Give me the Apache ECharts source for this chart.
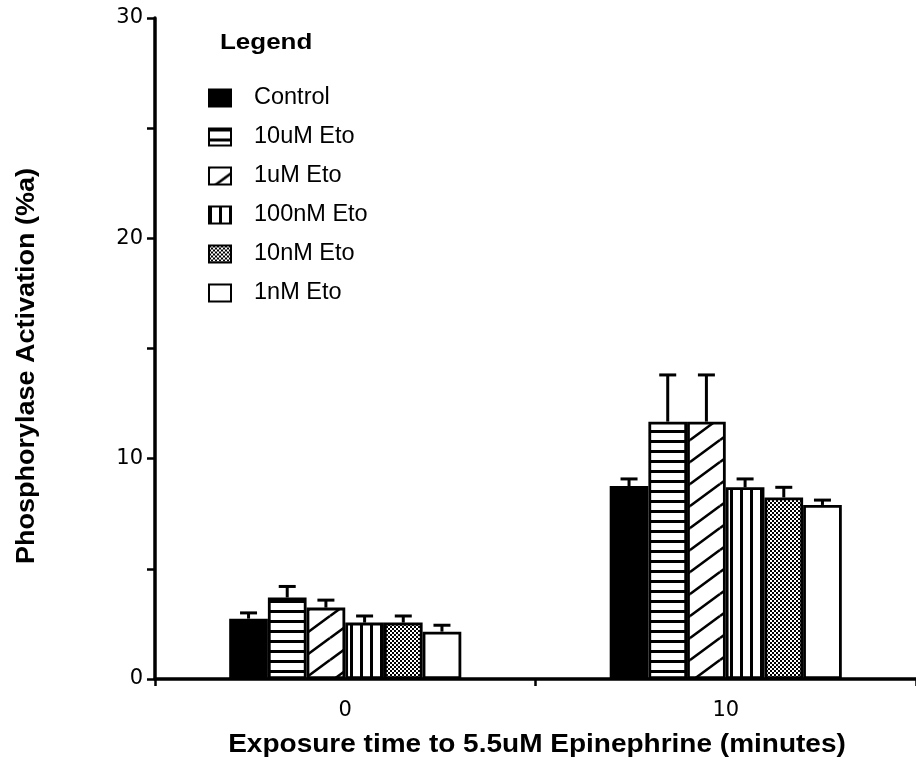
<!DOCTYPE html>
<html>
<head>
<meta charset="utf-8">
<script src="https://cdn.jsdelivr.net/npm/echarts@6/dist/echarts.min.js"></script>
<style>
  html, body { margin: 0; padding: 0; background: #fff; }
  #chart { width: 916px; height: 763px; }
</style>
</head>
<body>
<div id="chart"></div>
<script>
// Exposure times (minutes) on the category axis
const categories = ['0', '10'];

// Treatment groups, drawn left to right within each time point
const seriesNames = ['Control', '10uM Eto', '1uM Eto', '100nM Eto', '10nM Eto', '1nM Eto'];

// Mean phosphorylase activation (%a) per treatment, one value per time point
const control   = [2.74, 8.76];
const eto10uM   = [3.70, 11.68];
const eto1uM    = [3.24, 11.68];
const eto100nM  = [2.56, 8.70];
const eto10nM   = [2.56, 8.24];
const eto1nM    = [2.15, 7.90];

// Upper error (SEM) per treatment
const controlErr  = [0.26, 0.32];
const eto10uMErr  = [0.50, 2.12];
const eto1uMErr   = [0.34, 2.12];
const eto100nMErr = [0.30, 0.38];
const eto10nMErr  = [0.30, 0.46];
const eto1nMErr   = [0.29, 0.22];

const means = [control, eto10uM, eto1uM, eto100nM, eto10nM, eto1nM];
const errs = [controlErr, eto10uMErr, eto1uMErr, eto100nMErr, eto10nMErr, eto1nMErr];

// Y axis ticks that carry a label (minor ticks every 5 are unlabelled)
const yTicks = [0, 10, 20, 30];

// --- fill patterns ---
function tile(w, h, draw) {
  const c = document.createElement('canvas');
  c.width = w; c.height = h;
  const ctx = c.getContext('2d');
  ctx.fillStyle = '#fff';
  ctx.fillRect(0, 0, w, h);
  ctx.fillStyle = '#000';
  ctx.strokeStyle = '#000';
  draw(ctx, w, h);
  return { image: c, repeat: 'repeat' };
}
const hStripes = tile(10, 10, (ctx, w) => { ctx.fillRect(0, 0, w, 3); });
const diagStripes = tile(30, 22, (ctx, w, h) => {
  ctx.lineWidth = 2.6;
  for (const dx of [-w, 0, w]) {
    for (const dy of [-h, 0, h]) {
      ctx.beginPath();
      ctx.moveTo(dx, h + dy);
      ctx.lineTo(w + dx, dy);
      ctx.stroke();
    }
  }
});
const vStripes = tile(10, 10, (ctx, w, h) => { ctx.fillRect(0, 0, 3, h); });
const stipple = tile(4, 4, (ctx) => {
  ctx.fillRect(0, 0, 2, 2);
  ctx.fillRect(2, 2, 2, 2);
});
const fills = ['#000', hStripes, diagStripes, vStripes, stipple, '#fff'];

const CAT_GAP = 0.39;
const CAP = 17;

const chart = echarts.init(document.getElementById('chart'));

const barSeries = seriesNames.map((name, i) => ({
  name: name,
  type: 'bar',
  data: means[i],
  barGap: '0%',
  barCategoryGap: (CAT_GAP * 100) + '%',
  itemStyle: { color: fills[i], borderColor: '#000', borderWidth: 2.8 },
  emphasis: { disabled: true },
  z: 2
}));

// Upper error bars with caps, centred on each bar
const errSeries = seriesNames.map((name, i) => ({
  name: name + ' SEM',
  type: 'custom',
  z: 3,
  data: means[i].map((m, k) => [k, m, m + errs[i][k]]),
  renderItem: (params, api) => {
    const base = api.coord([api.value(0), api.value(1)]);
    const top = api.coord([api.value(0), api.value(2)]);
    const catW = api.size([1, 0])[0];
    const bw = catW * (1 - CAT_GAP) / seriesNames.length;
    const x = base[0] + (i - (seriesNames.length - 1) / 2) * bw;
    const style = { stroke: '#000', lineWidth: 3 };
    return {
      type: 'group',
      children: [
        { type: 'line', shape: { x1: x, y1: base[1], x2: x, y2: top[1] }, style: style },
        { type: 'line', shape: { x1: x - CAP / 2, y1: top[1], x2: x + CAP / 2, y2: top[1] }, style: style }
      ]
    };
  }
}));

chart.setOption({
  animation: false,
  backgroundColor: '#fff',
  grid: { left: 155, right: -3, top: 18, bottom: 84 },
  legend: {
    data: seriesNames,
    orient: 'vertical',
    left: 203,
    top: 81,
    icon: 'rect',
    itemWidth: 22,
    itemHeight: 17,
    itemGap: 15,
    selectedMode: false,
    textStyle: {
      fontFamily: 'Liberation Sans',
      fontSize: 23.5,
      color: '#000',
      padding: [0, 0, 0, 18]
    }
  },
  graphic: [
    {
      type: 'text', x: 220, y: 43, scaleX: 1.18,
      style: {
        text: 'Legend', font: 'bold 22px "Liberation Sans"', fill: '#000',
        align: 'left', verticalAlign: 'middle'
      }
    },
    {
      type: 'text', x: 27, y: 366, rotation: Math.PI / 2, scaleX: 1.08,
      style: {
        text: 'Phosphorylase Activation (%a)', font: 'bold 25px "Liberation Sans"',
        fill: '#000', align: 'center', verticalAlign: 'middle'
      }
    },
    {
      type: 'text', x: 537, y: 745, scaleX: 1.12,
      style: {
        text: 'Exposure time to 5.5uM Epinephrine (minutes)', font: 'bold 25px "Liberation Sans"',
        fill: '#000', align: 'center', verticalAlign: 'middle'
      }
    }
  ],
  xAxis: {
    type: 'category',
    data: categories,
    axisLine: { lineStyle: { color: '#000', width: 3.5 } },
    axisTick: { show: true, length: 7, lineStyle: { color: '#000', width: 2.5 } },
    axisLabel: {
      margin: 21, color: '#000', fontFamily: 'DejaVu Sans', fontSize: 21
    }
  },
  yAxis: {
    type: 'value',
    min: 0, max: 30, interval: 5,
    axisLine: { show: true, lineStyle: { color: '#000', width: 3.5 } },
    axisTick: { show: true, length: 8, lineStyle: { color: '#000', width: 2.5 } },
    splitLine: { show: false },
    axisLabel: {
      margin: 12, color: '#000', fontFamily: 'DejaVu Sans', fontSize: 21,
      formatter: v => (yTicks.indexOf(v) >= 0 ? String(v) : '')
    }
  },
  series: barSeries.concat(errSeries)
});
</script>
</body>
</html>
